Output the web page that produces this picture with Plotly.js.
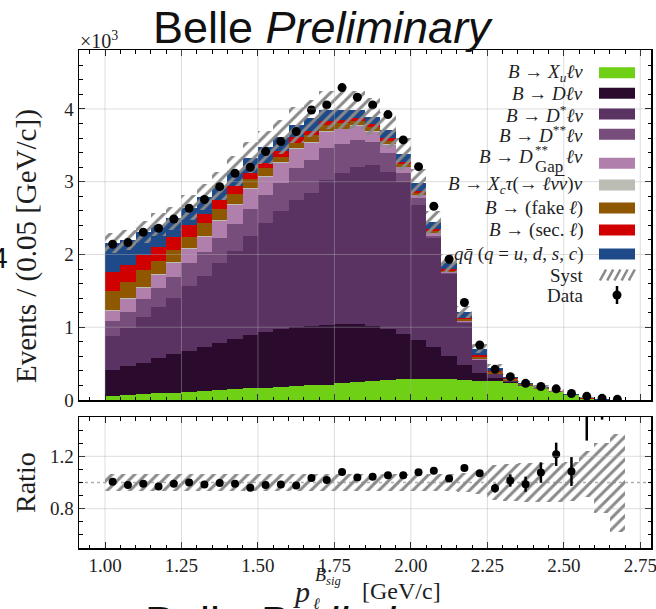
<!DOCTYPE html>
<html>
<head>
<meta charset="utf-8">
<script src="https://cdn.plot.ly/plotly-3.0.1.min.js"></script>
<style>
  html, body { margin: 0; padding: 0; background: #ffffff; }
  #chart { width: 656px; height: 609px; }
</style>
</head>
<body>
<div id="chart"></div>
<script>
// Lepton momentum in the B_sig frame, 0.05 GeV/c bins
const binCenters = [1.025, 1.075, 1.125, 1.175, 1.225, 1.275, 1.325, 1.375, 1.425, 1.475,
                    1.525, 1.575, 1.625, 1.675, 1.725, 1.775, 1.825, 1.875, 1.925, 1.975,
                    2.025, 2.075, 2.125, 2.175, 2.225, 2.275, 2.325, 2.375, 2.425, 2.475,
                    2.525, 2.575, 2.625, 2.675];

// Stacked MC components (events / bin), bottom to top
const xulnu   = [55, 69, 85, 92, 101, 115, 128, 140, 150, 160, 170, 180, 190, 200, 212, 230, 250, 265, 280, 293,
                 295, 291, 288, 278, 266, 262, 240, 190, 148, 106, 62, 17, 5, 1];
const dlnu    = [357, 398, 428, 481, 527, 563, 605, 648, 688, 729, 765, 791, 809, 817, 823, 815, 790, 755, 700, 610,
                 530, 433, 317, 203, 110, 45, 12, 5, 2, 1, 1, 0, 0, 0];
const dstlnu  = [468, 518, 623, 701, 769, 889, 972, 1092, 1212, 1361, 1495, 1629, 1750, 1833, 1989, 2071, 2167, 2210, 2159, 2087,
                 1855, 1507, 1122, 582, 175, 45, 10, 5, 2, 1, 1, 0, 0, 0];
const dsslnu  = [210, 229, 252, 261, 298, 312, 334, 350, 370, 370, 388, 387, 435, 449, 435, 398, 367, 321, 252, 126,
                 92, 23, 15, 10, 4, 3, 2, 1, 0, 0, 0, 0, 0, 0];
const gaplnu  = [138, 170, 156, 183, 193, 192, 206, 230, 260, 276, 243, 266, 262, 238, 230, 207, 197, 138, 114, 82,
                 46, 36, 18, 12, 4, 3, 2, 1, 0, 0, 0, 0, 0, 0];
const xctau   = [14, 13, 14, 12, 12, 12, 12, 12, 12, 12, 12, 12, 12, 12, 10, 10, 10, 8, 8, 8,
                 6, 6, 5, 5, 3, 3, 2, 1, 1, 1, 0, 0, 0, 0];
const fakeLep = [261, 230, 229, 185, 162, 162, 171, 153, 138, 125, 111, 80, 79, 94, 77, 72, 54, 60, 47, 38,
                 26, 27, 13, 25, 34, 30, 20, 12, 8, 6, 5, 3, 1, 0];
const secLep  = [261, 229, 206, 193, 174, 161, 129, 120, 105, 83, 78, 82, 74, 59, 59, 46, 46, 32, 37, 32,
                 28, 27, 18, 15, 20, 12, 8, 5, 3, 2, 2, 1, 0.5, 0];
const qqbar   = [390, 344, 317, 302, 259, 239, 233, 200, 215, 215, 211, 184, 169, 170, 151, 137, 105, 106, 114, 101,
                 100, 95, 84, 80, 89, 37, 20, 12, 11, 11, 9, 7, 5, 3];

// Data yields per bin
const dataCounts = [2142, 2163, 2305, 2360, 2488, 2635, 2755, 2932, 3116, 3198, 3414, 3551, 3689, 3986, 4055, 4293, 4160, 4055, 3922, 3574,
                    3207, 2662, 1934, 1340, 756, 421, 321, 229, 186, 153, 90, 50, 23, 9];

// Data / MC ratio with its uncertainty
const ratioVals = [1.005, 0.98, 0.99, 0.97, 0.99, 1.0, 0.985, 0.997, 0.99, 0.96, 0.98, 0.985, 0.977, 1.035, 1.02, 1.08, 1.038, 1.043, 1.056, 1.056,
                   1.078, 1.09, 1.03, 1.11, 1.07, 0.957, 1.015, 0.987, 1.076, 1.215, 1.084, 1.62, 2.0, null];
const ratioErrs = [0.009, 0.009, 0.009, 0.009, 0.009, 0.009, 0.009, 0.009, 0.008, 0.008, 0.008, 0.008, 0.008, 0.008, 0.008, 0.008, 0.008, 0.008, 0.008, 0.009,
                   0.009, 0.01, 0.012, 0.015, 0.02, 0.034, 0.047, 0.058, 0.078, 0.089, 0.11, 0.3, 0.52, null];

// Relative systematic uncertainty of the MC prediction (up / down)
const systUp = [0.065, 0.065, 0.065, 0.065, 0.065, 0.065, 0.065, 0.065, 0.065, 0.065, 0.065, 0.065, 0.065, 0.065, 0.065, 0.065, 0.065, 0.065, 0.065, 0.065,
                0.065, 0.065, 0.065, 0.07, 0.09, 0.13, 0.14, 0.15, 0.15, 0.15, 0.16, 0.24, 0.30, 0.37];
const systDn = [0.065, 0.065, 0.065, 0.065, 0.065, 0.065, 0.065, 0.065, 0.065, 0.065, 0.065, 0.065, 0.065, 0.065, 0.065, 0.065, 0.065, 0.065, 0.065, 0.065,
                0.065, 0.065, 0.065, 0.07, 0.09, 0.13, 0.14, 0.15, 0.15, 0.15, 0.14, 0.11, 0.23, 0.38];

// Axis ticks
const xTickVals = [1.00, 1.25, 1.50, 1.75, 2.00, 2.25, 2.50, 2.75];
const yTickVals = [0, 1000, 2000, 3000, 4000];
const yTickText = ['0', '1', '2', '3', '4'];
const rTickVals = [0.8, 1.2];

// Components in stacking order, with legend labels and colours
const components = [
  { vals: xulnu,   color: '#6fd016', label: '<i>B</i> → <i>X</i><sub><i>u</i></sub><i>ℓν</i>' },
  { vals: dlnu,    color: '#2a0b2e', label: '<i>B</i> → <i>Dℓν</i>' },
  { vals: dstlnu,  color: '#5b3363', label: '<i>B</i> → <i>D</i><sup>*</sup><i>ℓν</i>' },
  { vals: dsslnu,  color: '#774e7b', label: '<i>B</i> → <i>D</i><sup>**</sup><i>ℓν</i>' },
  { vals: gaplnu,  color: '#b07fac', label: null },
  { vals: xctau,   color: '#bbbdb5', label: '<i>B</i> → <i>X</i><sub><i>c</i></sub><i>τ</i>(→ <i>ℓν̅ν</i>)<i>ν</i>' },
  { vals: fakeLep, color: '#8f5800', label: '<i>B</i> → (fake <i>ℓ</i>)' },
  { vals: secLep,  color: '#d10000', label: '<i>B</i> → (sec. <i>ℓ</i>)' },
  { vals: qqbar,   color: '#1f4a8a', label: '<i>qq̄</i> (<i>q</i> = <i>u</i>, <i>d</i>, <i>s</i>, <i>c</i>)' }
];

// ---- figure geometry (pixels) ----
const W = 656, H = 609;
const M = { l: 79, r: 5, t: 50, b: 61 };
const plotW = W - M.l - M.r, plotH = H - M.t - M.b;
const mainTop = 50, mainBot = 400, ratTop = 417, ratBot = 548;
const px = x => (x - M.l) / plotW;
const py = y => (M.t + plotH - y) / plotH;

const BIN_W = 0.05;
const serif = 'Liberation Serif, Times New Roman, serif';
const sans = 'Liberation Sans, Arial, sans-serif';
const hatchColor = '#8a8a8a';

// ---- traces ----
const traces = [];
const cumulative = binCenters.map(() => 0);
components.forEach(c => {
  traces.push({
    type: 'bar', x: binCenters, y: c.vals, base: cumulative.slice(),
    width: BIN_W, xaxis: 'x', yaxis: 'y',
    marker: { color: c.color, line: { width: 0 } },
    hoverinfo: 'skip', showlegend: false
  });
  c.vals.forEach((v, i) => { cumulative[i] += v; });
});
const mcTotal = cumulative;

// systematic band on the stack
traces.push({
  type: 'bar', x: binCenters,
  base: mcTotal.map((t, i) => t * (1 - systDn[i])),
  y: mcTotal.map((t, i) => t * (systUp[i] + systDn[i])),
  width: BIN_W, xaxis: 'x', yaxis: 'y',
  marker: { color: 'rgba(0,0,0,0)', line: { width: 0 },
            pattern: { shape: '/', fgcolor: hatchColor, bgcolor: 'rgba(0,0,0,0)', size: 8, solidity: 0.38 } },
  hoverinfo: 'skip', showlegend: false
});

// data points
traces.push({
  type: 'scatter', mode: 'markers', x: binCenters, y: dataCounts,
  xaxis: 'x', yaxis: 'y',
  marker: { color: '#000000', size: 9 },
  hoverinfo: 'skip', showlegend: false
});

// ratio panel: systematic band
traces.push({
  type: 'bar', x: binCenters,
  base: systDn.map(d => 1 - d),
  y: systUp.map((u, i) => u + systDn[i]),
  width: BIN_W, xaxis: 'x2', yaxis: 'y2',
  marker: { color: 'rgba(0,0,0,0)', line: { width: 0 },
            pattern: { shape: '/', fgcolor: hatchColor, bgcolor: 'rgba(0,0,0,0)', size: 8, solidity: 0.38 } },
  hoverinfo: 'skip', showlegend: false
});

// ratio panel: data / MC
traces.push({
  type: 'scatter', mode: 'markers', x: binCenters, y: ratioVals,
  xaxis: 'x2', yaxis: 'y2',
  marker: { color: '#000000', size: 8 },
  error_y: { type: 'data', array: ratioErrs, visible: true, color: '#000000', thickness: 2.5, width: 0 },
  hoverinfo: 'skip', showlegend: false
});

// ---- shapes: grid (drawn over the bars, translucent), reference line, legend glyphs ----
const gridColor = 'rgba(175,175,175,0.42)';
const shapes = [];
xTickVals.forEach(v => {
  shapes.push({ type: 'line', xref: 'x', yref: 'y domain', x0: v, x1: v, y0: 0, y1: 1,
                line: { color: gridColor, width: 1 }, layer: 'above' });
  shapes.push({ type: 'line', xref: 'x2', yref: 'y2 domain', x0: v, x1: v, y0: 0, y1: 1,
                line: { color: gridColor, width: 1 }, layer: 'above' });
});
yTickVals.slice(1).forEach(v => {
  shapes.push({ type: 'line', xref: 'x domain', yref: 'y', x0: 0, x1: 1, y0: v, y1: v,
                line: { color: gridColor, width: 1 }, layer: 'above' });
});
rTickVals.forEach(v => {
  shapes.push({ type: 'line', xref: 'x2 domain', yref: 'y2', x0: 0, x1: 1, y0: v, y1: v,
                line: { color: gridColor, width: 1 }, layer: 'above' });
});
shapes.push({ type: 'line', xref: 'x2 domain', yref: 'y2', x0: 0, x1: 1, y0: 1, y1: 1,
              line: { color: '#b0b0b0', width: 1.5, dash: 'dot' }, layer: 'below' });

// legend
const legendRows = [72.7, 93.3, 114, 134.3, 163.3, 185, 208, 230, 254];
const swX0 = 599, swX1 = 635, swH = 11;
components.forEach((c, i) => {
  const yc = legendRows[i];
  shapes.push({ type: 'rect', xref: 'paper', yref: 'paper',
                x0: px(swX0), x1: px(swX1), y0: py(yc + swH / 2), y1: py(yc - swH / 2),
                fillcolor: c.color, line: { width: 0 }, layer: 'above' });
});
// Syst swatch: hatch strokes
const systRow = 275;
for (let k = 0; k < 5; k++) {
  const xa = swX0 + 1 + 7.2 * k;
  shapes.push({ type: 'line', xref: 'paper', yref: 'paper',
                x0: px(xa), y0: py(systRow + 5.5), x1: px(xa + 6), y1: py(systRow - 5.5),
                line: { color: hatchColor, width: 2.6 }, layer: 'above' });
}
// Data glyph
const dataRow = 295, dataX = 617;
shapes.push({ type: 'line', xref: 'paper', yref: 'paper',
              x0: px(dataX), x1: px(dataX), y0: py(dataRow + 9), y1: py(dataRow - 9),
              line: { color: '#000', width: 2.5 }, layer: 'above' });
shapes.push({ type: 'circle', xref: 'paper', yref: 'paper',
              x0: px(dataX - 4.5), x1: px(dataX + 4.5), y0: py(dataRow + 4.5), y1: py(dataRow - 4.5),
              fillcolor: '#000', line: { width: 0 }, layer: 'above' });

// ---- annotations ----
const textColor = '#1e1e1e';
const ann = (text, x, y, opts = {}) => Object.assign({
  text, xref: 'paper', yref: 'paper', x: px(x), y: py(y),
  showarrow: false, xanchor: 'center', yanchor: 'middle', borderpad: 0,
  font: { family: serif, size: 19, color: textColor }
}, opts);

const annotations = [];
const legendRight = 584;
components.forEach((c, i) => {
  if (c.label) annotations.push(ann(c.label, legendRight, legendRows[i], { xanchor: 'right' }));
});
// D**_Gap label built from pieces so that the sub- and superscript stack
annotations.push(ann('<i>B</i> → <i>D</i>', 534, 156, { xanchor: 'right' }));
annotations.push(ann('**', 533.5, 149, { xanchor: 'left', font: { family: serif, size: 13, color: textColor } }));
annotations.push(ann('Gap', 534, 166, { xanchor: 'left', font: { family: serif, size: 17, color: textColor } }));
annotations.push(ann('<i>ℓν</i>', legendRight, 156, { xanchor: 'right' }));
annotations.push(ann('Syst', legendRight, systRow, { xanchor: 'right' }));
annotations.push(ann('Data', legendRight, dataRow, { xanchor: 'right' }));

// titles
annotations.push(ann('Belle <i>Preliminary</i>', 323, 27, { font: { family: sans, size: 45, color: '#111' } }));
annotations.push(ann('×10<sup>3</sup>', 79, 40, { xanchor: 'left', font: { family: serif, size: 20, color: textColor } }));
annotations.push(ann('Events / (0.05 [GeV/c])', 26, 246,
  { textangle: -90, font: { family: serif, size: 29, color: textColor } }));
annotations.push(ann('Ratio', 26, 483,
  { textangle: -90, font: { family: serif, size: 28, color: textColor } }));
// x-axis title p_ℓ^{B_sig} [GeV/c]
annotations.push(ann('<i>p</i>', 301, 591, { font: { family: serif, size: 30, color: textColor } }));
annotations.push(ann('<i>B</i><sub><i>sig</i></sub>', 314, 576, { xanchor: 'left', font: { family: serif, size: 18, color: textColor } }));
annotations.push(ann('<i>ℓ</i>', 312, 603, { xanchor: 'left', font: { family: serif, size: 16, color: textColor } }));
annotations.push(ann('[GeV/c]', 401, 591, { font: { family: serif, size: 24, color: textColor } }));
// neighbouring panel text cut by the frame edges
annotations.push(ann('4', 9, 257, { xanchor: 'right', font: { family: sans, size: 30, color: '#111' } }));
annotations.push(ann('Belle <i>Preliminary</i>', 315, 622, { font: { family: sans, size: 45, color: '#111' } }));

// ---- axes ----
const axisCommon = {
  showline: true, linecolor: '#000', linewidth: 1.5, mirror: 'allticks',
  ticks: 'inside', ticklen: 6, tickwidth: 1, tickcolor: '#000',
  showgrid: false, zeroline: false, ticklabeloverflow: 'allow',
  tickfont: { family: serif, size: 19, color: textColor }
};
const mainDomain = [py(mainBot), py(mainTop)];
const ratDomain = [py(ratBot), py(ratTop)];

const layout = {
  width: W, height: H, margin: M,
  paper_bgcolor: '#ffffff', plot_bgcolor: '#ffffff',
  barmode: 'overlay', bargap: 0, showlegend: false,
  xaxis: Object.assign({}, axisCommon, {
    domain: [0, 1], anchor: 'y', range: [0.915, 2.785],
    tickmode: 'linear', tick0: 1.0, dtick: 0.25, showticklabels: false,
    minor: { tick0: 1.0, dtick: 0.05, ticks: 'inside', ticklen: 3.5, tickcolor: '#000', showgrid: false }
  }),
  yaxis: Object.assign({}, axisCommon, {
    domain: mainDomain, anchor: 'x', range: [0, 4810],
    tickmode: 'array', tickvals: yTickVals, ticktext: yTickText,
    minor: { tick0: 0, dtick: 200, ticks: 'inside', ticklen: 3.5, tickcolor: '#000', showgrid: false }
  }),
  xaxis2: Object.assign({}, axisCommon, {
    domain: [0, 1], anchor: 'y2', range: [0.915, 2.785],
    tickmode: 'linear', tick0: 1.0, dtick: 0.25, tickformat: '.2f',
    minor: { tick0: 1.0, dtick: 0.05, ticks: 'inside', ticklen: 3.5, tickcolor: '#000', showgrid: false }
  }),
  yaxis2: Object.assign({}, axisCommon, {
    domain: ratDomain, anchor: 'x2', range: [0.5, 1.5],
    tickmode: 'linear', tick0: 0, dtick: 0.4, tickformat: '.1f',
    minor: { tick0: 0, dtick: 0.1, ticks: 'inside', ticklen: 3.5, tickcolor: '#000', showgrid: false }
  }),
  shapes, annotations
};

Plotly.newPlot('chart', traces, layout, { displayModeBar: false, staticPlot: true });
</script>
</body>
</html>
